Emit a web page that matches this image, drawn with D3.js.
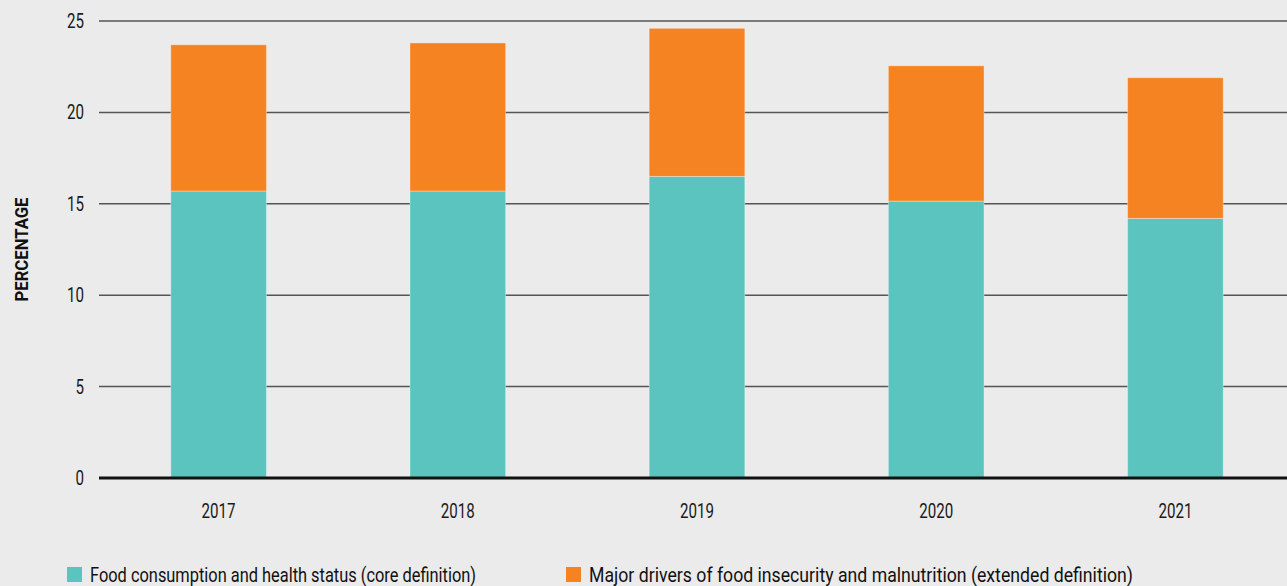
<!DOCTYPE html>
<html><head><meta charset="utf-8">
<script src="https://cdn.jsdelivr.net/npm/d3@7"></script>
<style>
html,body{margin:0;padding:0;background:#ebebeb;}
svg{display:block;font-family:"Roboto","Liberation Sans",sans-serif;}
</style></head><body>
<svg id="chart" width="1287" height="586"></svg>
<script>
const years = ["2017","2018","2019","2020","2021"];
const coreValues = [15.7, 15.7, 16.5, 15.15, 14.2];
const extendedValues = [8.0, 8.1, 8.1, 7.4, 7.7];
const yTicks = [0, 5, 10, 15, 20, 25];
const seriesNames = ["Food consumption and health status (core definition)",
  "Major drivers of food insecurity and malnutrition (extended definition)"];
const seriesColors = ["#5bc4bf", "#f58322"];

const svg = d3.select("#chart");
const W = 1287, H = 586;
svg.append("rect").attr("width", W).attr("height", H).attr("fill", "#ebebeb");

const x = d3.scaleBand().domain(years).range([99, 1295]).paddingInner(0.6).paddingOuter(0.3);
const y = d3.scaleLinear().domain([0, 25]).range([478, 21]);

// gridlines
svg.append("g").selectAll("line").data(yTicks.filter(d => d > 0)).join("line")
  .attr("x1", 99).attr("x2", W).attr("y1", d => y(d)).attr("y2", d => y(d))
  .attr("stroke", "#555").attr("stroke-width", 1.5);

// y tick labels (condensed look)
svg.append("g").selectAll("text").data(yTicks).join("text")
  .attr("x", 84).attr("y", d => y(d) + 7)
  .attr("text-anchor", "end").attr("font-size", 19.5).attr("fill", "#1a1a1a")
  .attr("textLength", d => String(d).length * 8.5).attr("lengthAdjust", "spacingAndGlyphs")
  .text(d => d);

// stacked data
const rows = years.map((yr, i) => ({year: yr, core: coreValues[i], ext: extendedValues[i]}));
const stack = d3.stack().keys(["core", "ext"])(rows);

svg.append("g").selectAll("g").data(stack).join("g")
  .attr("fill", (d, i) => seriesColors[i])
  .selectAll("rect").data(d => d).join("rect")
  .attr("x", d => x(d.data.year)).attr("width", x.bandwidth())
  .attr("y", d => y(d[1])).attr("height", d => y(d[0]) - y(d[1]))
  .attr("stroke", "rgba(255,255,255,0.35)").attr("stroke-width", 1);

// zero line
svg.append("line").attr("x1", 99).attr("x2", W).attr("y1", y(0)).attr("y2", y(0))
  .attr("stroke", "#111").attr("stroke-width", 3);

// x labels
svg.append("g").selectAll("text").data(years).join("text")
  .attr("x", d => x(d) + x.bandwidth() / 2).attr("y", 518)
  .attr("text-anchor", "middle").attr("font-size", 19.5).attr("fill", "#1a1a1a")
  .attr("textLength", 34).attr("lengthAdjust", "spacingAndGlyphs")
  .text(d => d);

// y axis title
svg.append("text").attr("transform", "translate(28," + (y(12.5)) + ") rotate(-90)")
  .attr("text-anchor", "middle").attr("font-size", 19).attr("font-weight", "bold")
  .attr("textLength", 104).attr("lengthAdjust", "spacingAndGlyphs")
  .attr("fill", "#111").text("PERCENTAGE");

// legend
const legX = [67, 566];
const legLen = [386, 544];
const leg = svg.append("g").selectAll("g").data(seriesNames).join("g")
  .attr("transform", (d, i) => "translate(" + legX[i] + ",567)");
leg.append("rect").attr("width", 15).attr("height", 15).attr("fill", (d, i) => seriesColors[i]);
leg.append("text").attr("x", 23).attr("y", 15).attr("font-size", 19.5).attr("fill", "#111")
  .attr("textLength", (d, i) => legLen[i]).attr("lengthAdjust", "spacingAndGlyphs")
  .text(d => d);
</script>
</body></html>
